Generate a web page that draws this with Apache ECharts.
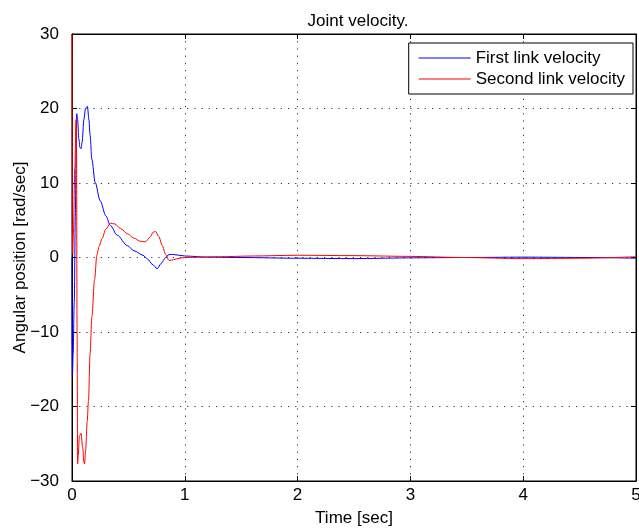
<!DOCTYPE html>
<html>
<head>
<meta charset="utf-8">
<script src="https://cdn.jsdelivr.net/npm/echarts@6/dist/echarts.min.js"></script>
<style>
  html, body { margin: 0; padding: 0; background: #fff; }
  #chart { width: 639px; height: 529px; }
</style>
</head>
<body>
<div id="chart"></div>
<script>
var chart = echarts.init(document.getElementById('chart'));

// time samples [sec] and velocities [rad/sec]
var firstTime = [0, 0.002, 0.004, 0.01, 0.02, 0.03, 0.038, 0.042, 0.05, 0.06, 0.07, 0.08, 0.09, 0.105, 0.12, 0.137,
    0.15, 0.16, 0.176, 0.205, 0.25, 0.3, 0.34, 0.4, 0.49, 0.55, 0.63, 0.67, 0.71, 0.756, 0.79, 0.83, 0.86, 0.9,
    1.0, 1.2, 1.5, 2.0, 2.5, 3.0, 3.5, 4.0, 4.6, 5.0];
var firstVel = [0, -12, -15.8, -13, -6, 6, 16, 19.3, 18.5, 16, 14.8, 14.6, 15.5, 18.5, 20, 20.3,
    18.5, 16.5, 13.2, 10.1, 7.6, 5.6, 4.3, 3, 1.6, 0.9, 0.3, -0.2, -0.9, -1.5, -0.8, 0, 0.4, 0.4,
    0.2, 0.05, 0, -0.1, -0.15, -0.05, 0, 0.05, 0, -0.1];

var secondTime = [0, 0.003, 0.006, 0.012, 0.025, 0.036, 0.04, 0.045, 0.05, 0.056, 0.065, 0.08, 0.095, 0.105, 0.112,
    0.12, 0.135, 0.146, 0.16, 0.176, 0.2, 0.22, 0.24, 0.265, 0.3, 0.34, 0.38, 0.43, 0.49, 0.55, 0.6, 0.65,
    0.69, 0.72, 0.74, 0.77, 0.8, 0.83, 0.86, 0.9, 0.95, 1.0, 1.3, 1.6, 2.0, 2.5, 3.0, 3.46, 4.0, 4.5, 5.0];
var secondVel = [30, 5, 0.5, 3, 12, 18.5, 15, -10, -27.7, -26.5, -24, -23.6, -25.5, -27.5, -27.7,
    -26, -22, -19.2, -13, -8, -3, 0.3, 1.5, 2.5, 3.8, 4.6, 4.5, 3.9, 3.2, 2.6, 2.2, 2.1,
    2.7, 3.4, 3.5, 2.8, 1.6, 0.4, -0.4, -0.3, -0.1, 0, 0.1, 0.2, 0.3, 0.25, 0.15, 0, -0.15, -0.1, 0.1];

var xTicks = [0, 1, 2, 3, 4, 5];
var yTicks = [-30, -20, -10, 0, 10, 20, 30];

function pairs(t, v) {
    return t.map(function (x, i) { return [x, v[i]]; });
}

var font = 'Liberation Sans, Arial, Helvetica, sans-serif';
var gridDots = { show: true, lineStyle: { color: '#333', type: [1.2, 6], width: 1 } };
var boxLine = { show: true, onZero: false, lineStyle: { color: '#000', width: 1 } };
var tickIn = { show: true, inside: true, length: 5, lineStyle: { color: '#000' } };

var option = {
    animation: false,
    backgroundColor: '#fff',
    title: {
        text: 'Joint velocity.',
        left: 353,
        textAlign: 'center',
        top: 8,
        textStyle: { fontFamily: font, fontSize: 17, fontWeight: 'normal', color: '#000' }
    },
    grid: { left: 72, right: 3, top: 34, bottom: 48, show: true, borderColor: '#000', borderWidth: 1,
        containLabel: false, outerBoundsMode: 'none' },
    legend: {
        data: ['First link velocity', 'Second link velocity'],
        orient: 'vertical',
        right: 6,
        top: 43,
        padding: [5, 8, 5, 10],
        itemGap: 1,
        icon: 'rect',
        itemWidth: 52,
        itemHeight: 1,
        backgroundColor: '#fff',
        borderColor: '#000',
        borderWidth: 1,
        borderRadius: 0,
        textStyle: { fontFamily: font, fontSize: 17, color: '#000', lineHeight: 20 }
    },
    xAxis: [{
        type: 'value',
        min: 0, max: 5, interval: 1,
        name: 'Time [sec]',
        nameLocation: 'middle',
        nameGap: 29,
        nameMoveOverlap: false,
        nameTextStyle: { fontFamily: font, fontSize: 17, color: '#000' },
        axisLine: boxLine,
        axisTick: tickIn,
        axisLabel: { fontFamily: font, fontSize: 17, color: '#000', margin: 6,
            formatter: function (v) { return xTicks.indexOf(v) >= 0 ? String(v) : ''; } },
        splitLine: gridDots
    }, {
        type: 'value',
        position: 'top',
        min: 0, max: 5, interval: 1,
        axisLine: boxLine,
        axisTick: tickIn,
        axisLabel: { show: false },
        splitLine: { show: false }
    }],
    yAxis: [{
        type: 'value',
        min: -30, max: 30, interval: 10,
        name: 'Angular position [rad/sec]',
        nameLocation: 'middle',
        nameGap: 43,
        nameMoveOverlap: false,
        nameTextStyle: { fontFamily: font, fontSize: 17, color: '#000' },
        axisLine: boxLine,
        axisTick: tickIn,
        axisLabel: { fontFamily: font, fontSize: 17, color: '#000', margin: 13,
            formatter: function (v) { return yTicks.indexOf(v) >= 0 ? String(v).replace('-', '\u2212') : ''; } },
        splitLine: gridDots
    }, {
        type: 'value',
        position: 'right',
        min: -30, max: 30, interval: 10,
        axisLine: boxLine,
        axisTick: tickIn,
        axisLabel: { show: false },
        splitLine: { show: false }
    }],
    series: [{
        name: 'First link velocity',
        type: 'line',
        xAxisIndex: 0, yAxisIndex: 0,
        data: pairs(firstTime, firstVel),
        symbol: 'none',
        smooth: 0.3,
        smoothMonotone: 'x',
        lineStyle: { color: '#0000ff', width: 1 },
        itemStyle: { color: '#0000ff' }
    }, {
        name: 'Second link velocity',
        type: 'line',
        xAxisIndex: 0, yAxisIndex: 0,
        data: pairs(secondTime, secondVel),
        symbol: 'none',
        smooth: 0.3,
        smoothMonotone: 'x',
        lineStyle: { color: '#ff0000', width: 1 },
        itemStyle: { color: '#ff0000' }
    }]
};

chart.setOption(option);
</script>
</body>
</html>
